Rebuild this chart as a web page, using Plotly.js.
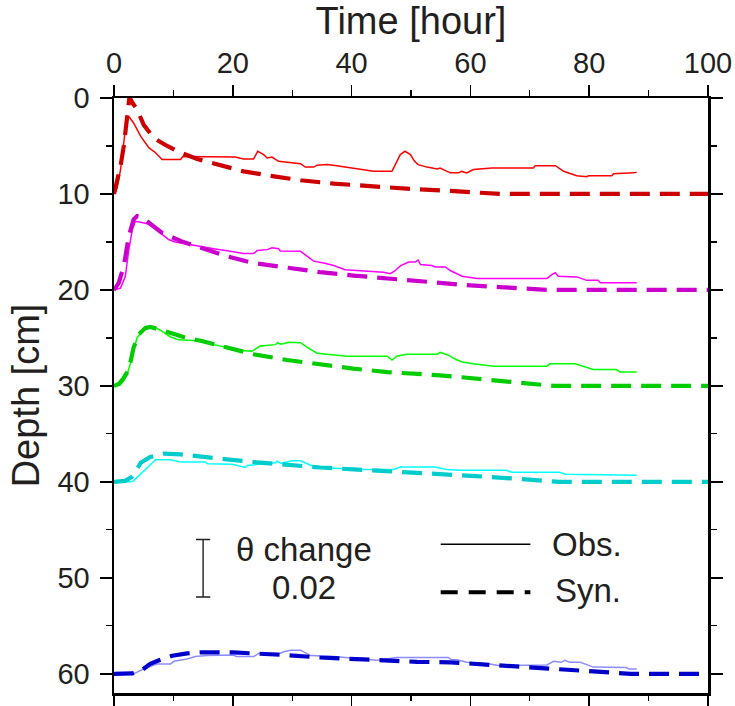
<!DOCTYPE html>
<html>
<head>
<meta charset="utf-8">
<script src="https://cdn.plot.ly/plotly-3.0.1.min.js"></script>
<style>html,body{margin:0;padding:0;background:#fff;}#chart{width:735px;height:706px;}</style>
</head>
<body>
<div id="chart"></div>
<script>
// Time [hour] / Depth [cm] values
const obsRedX = [0,0.5,1.1,1.65,2.0,2.3,2.6,3.3,4.5,5.9,7.0,8.1,11.2,11.6,13.9,17.1,20.4,21.8,23.5,24.2,25.2,25.8,26.6,27.7,31.4,32.2,33.6,34.2,35.9,37.5,39.2,40.9,43.7,46.8,47.1,48.2,49.0,49.9,50.6,51.2,52.7,54.4,54.9,56.6,58.0,58.5,59.4,60.5,63.6,70.6,70.9,74.3,75.7,77.3,77.9,79.6,79.9,83.8,84.1,87.4,88.0];
const obsRedY = [10,9.4,7.5,4.7,2.8,1.95,2.0,2.6,4.0,5.2,5.7,6.4,6.4,6.1,6.1,6.15,6.15,6.35,6.35,5.55,5.9,6.25,6.15,6.6,6.84,7.2,7.2,7.0,6.94,7.05,7.2,7.4,7.64,7.64,7.3,5.9,5.55,5.9,6.6,6.94,7.2,7.4,7.3,7.8,7.8,7.65,7.8,7.46,7.3,7.3,7.05,7.05,7.64,7.98,8.1,8.2,8.1,8.1,7.9,7.8,7.75];
const synRedX = [0,0.5,1.1,1.65,2.1,2.6,3.1,3.9,5.0,6.7,8.95,11.2,14,17.4,21.8,26.9,31.4,37,42.6,49.9,55,61.1,65,100];
const synRedY = [10,8.85,7.1,5.0,2.3,-0.1,0.5,1.2,2.8,4.17,5.0,5.7,6.35,6.94,7.64,8.16,8.57,8.92,9.2,9.47,9.62,9.8,10,10];

const obsMagX = [0,1.1,1.9,2.5,3.1,3.6,4.5,5.6,6.7,8.1,9.2,10.3,12.6,14.6,16.8,19.6,21.8,23.5,24.1,25.8,26.6,27.7,28.0,31.4,32.5,33.6,35.3,37,38.9,42.6,45.4,46.5,47.2,48.2,49.6,50.7,51.2,51.6,53.5,54.1,55.8,56.6,57.7,58.6,61.1,72.9,73.7,74.3,74.8,77.9,79.6,81.5,81.9,88];
const obsMagY = [20,19.8,18.6,15.8,13.7,12.85,12.95,13.1,13.5,14.2,14.75,15.0,15.27,15.45,15.7,15.97,16.2,16.2,15.9,15.8,15.6,15.7,15.95,15.97,16.5,17.0,17.2,17.45,17.9,18.05,18.15,18.3,18.05,17.5,17.1,17.1,16.9,17.35,17.45,17.6,17.6,17.98,18.3,18.57,18.8,18.8,18.4,18.2,18.57,18.64,19.0,19.0,19.25,19.25];
const synMagX = [0,0.8,1.65,2.5,3.3,3.9,4.6,5.9,8.1,11.2,14.6,19,23.5,29.1,34.7,40.3,45.9,51.6,53.8,59.4,65,71.2,73,100];
const synMagY = [20,19.26,17.5,14.4,12.67,12.3,12.4,13.0,14.05,14.9,15.6,16.5,17.2,17.7,18.15,18.5,18.8,19.1,19.26,19.5,19.7,19.95,20,20];

const obsGrnX = [0,1.0,1.6,2.2,2.8,3.3,3.9,4.7,5.9,7,7.8,8.7,9.5,10.9,14,16.8,19,21.3,23.2,24.6,27.2,27.5,28.1,29.4,31.4,32.8,34.2,35.9,39.2,46,46.8,47.6,49.3,54.4,54.9,56.3,57.4,58.6,60.5,63.9,72.9,73.4,77.6,80.7,84.6,85.2,88];
const obsGrnY = [30,29.9,29.5,28.8,27.6,26.2,25.0,24.3,23.95,23.95,24.2,24.6,24.9,25.2,25.3,25.7,26.0,26.3,26.4,25.85,25.7,25.5,25.65,25.45,25.5,26.1,26.6,26.7,26.9,26.9,27.3,26.9,26.7,26.7,26.5,26.8,27.2,27.5,27.7,27.94,27.94,27.7,27.7,28.3,28.3,28.56,28.56];
const synGrnX = [0,0.8,1.6,2.5,3.3,4.2,5.3,6.1,7.5,9.5,11.7,14.6,19,23.5,29.1,34.7,40.3,46,51,54.9,59.4,64,70,74,100];
const synGrnY = [30,29.8,29.2,28.3,26.0,24.6,23.95,23.85,24.1,24.46,24.9,25.3,26.0,26.7,27.3,27.8,28.2,28.56,28.7,28.9,29.15,29.45,29.8,30,30];

const obsCyaX = [0,2.8,3.3,5,7,9.5,11.2,15.4,15.7,19.9,22.1,22.4,27.2,27.4,28.1,30,31.4,33.1,34.7,38.1,40.3,47.1,48.2,54,56,58,66,67,75,76,88];
const obsCyaY = [40,40,39.9,38.9,37.7,37.7,37.93,37.93,38.1,38.17,38.5,38.3,38.0,37.85,38.05,37.8,37.8,38.27,38.5,38.6,38.7,38.7,38.45,38.45,38.7,38.8,38.8,39.0,39.0,39.2,39.3];
const synCyaX = [0,1.9,3.1,4.5,6.1,8.4,11.2,14.6,19,23.5,29.1,34.7,40.3,46,51,56,61,66,71,75,100];
const synCyaY = [40,39.9,39.45,38,37.4,37.05,37.13,37.4,37.65,37.93,38.27,38.5,38.7,38.87,39.04,39.2,39.4,39.6,39.85,40,40];

const obsBluX = [0,3.3,5,7.3,9.5,10.1,12.3,13.7,15.7,20.1,20.6,23.5,24.4,28,28.6,29.7,31.4,32.2,33.1,37,40.3,43.7,44.2,47.6,56.3,56.7,57.7,59.4,63.3,64.7,72.9,74,75.3,75.9,76.7,78.5,80.7,86.3,86.6,88];
const obsBluY = [60,60,59.5,58.97,58.97,58.7,58.45,58.2,58.1,58.05,58.2,58.2,57.85,57.85,57.7,57.54,57.54,57.8,58.1,58.2,58.4,58.54,58.6,58.3,58.3,58.5,58.54,58.8,58.97,59.14,59.07,58.7,58.8,58.6,58.8,58.8,59.3,59.35,59.5,59.5];
const synBluX = [0,3.1,4.5,6.1,7.8,9.8,12.3,14.6,20.1,24.6,29.1,34.7,40.3,46,51,56.6,61.1,66.1,71.2,76.2,81.3,86.3,87,100];
const synBluY = [60,59.96,59.7,58.97,58.54,58.12,57.88,57.77,57.77,57.88,58.05,58.3,58.47,58.64,58.75,58.8,58.97,59.14,59.3,59.5,59.7,59.96,60,60];

const xTicks = [0,20,40,60,80,100];
const yTicks = [0,10,20,30,40,50,60];

const FONT = "Liberation Sans, Arial, Helvetica, sans-serif";
const TXT = "#231f20";
const DASH = "20px,10px";

function obs(x, y, c) { return {x:x, y:y, type:'scatter', mode:'lines', line:{color:c, width:1.5}, hoverinfo:'skip', showlegend:false}; }
function syn(x, y, c) { return {x:x, y:y, type:'scatter', mode:'lines', line:{color:c, width:4.2, dash:DASH}, hoverinfo:'skip', showlegend:false}; }

const traces = [
  obs(obsRedX, obsRedY, '#ff0000'), syn(synRedX, synRedY, '#cc0000'),
  obs(obsMagX, obsMagY, '#ff00ff'), syn(synMagX, synMagY, '#cc00cc'),
  obs(obsGrnX, obsGrnY, '#00ff00'), syn(synGrnX, synGrnY, '#00cc00'),
  obs(obsCyaX, obsCyaY, '#00ffff'), syn(synCyaX, synCyaY, '#00cccc'),
  obs(obsBluX, obsBluY, '#8c8cff'), syn(synBluX, synBluY, '#0000cc')
];

const layout = {
  width:735, height:706,
  margin:{l:114, r:27, t:98, b:13, pad:0},
  paper_bgcolor:'#fff', plot_bgcolor:'#fff',
  font:{family:FONT, color:TXT},
  showlegend:false,
  xaxis:{
    side:'top', range:[0,100], tickvals:xTicks, ticks:'outside', ticklen:11, tickwidth:1.5, tickcolor:'#000',
    showline:true, linewidth:2.5, linecolor:'#000', mirror:'ticks', showgrid:false, zeroline:false,
    minor:{dtick:10, tick0:0, ticks:'outside', ticklen:5.5, tickwidth:1.2, tickcolor:'#000', showgrid:false},
    tickfont:{size:29, color:TXT, family:FONT},
    title:{text:'Time [hour]', font:{size:38, color:TXT, family:FONT}, standoff:8},
    automargin:false, fixedrange:true
  },
  yaxis:{
    range:[62,0], tickvals:yTicks, ticks:'outside', ticklen:12, tickwidth:1.5, tickcolor:'#000',
    showline:true, linewidth:2.5, linecolor:'#000', mirror:'ticks', showgrid:false, zeroline:false,
    minor:{dtick:5, tick0:0, ticks:'outside', ticklen:6, tickwidth:1.2, tickcolor:'#000', showgrid:false},
    tickfont:{size:29, color:TXT, family:FONT}, ticklabelstandoff:4,
    title:{text:'Depth [cm]', font:{size:38, color:TXT, family:FONT}, standoff:6},
    automargin:false, fixedrange:true
  },
  shapes:[
    {type:'path', xref:'x', yref:'y', path:'M 13.8 46 L 16.2 46 M 15 46 L 15 52 M 13.8 52 L 16.2 52', line:{color:'#231f20', width:1.4}},
    {type:'line', xref:'x', yref:'y', x0:55.0, x1:70.1, y0:46.5, y1:46.5, line:{color:'#000', width:1.5}},
    {type:'line', xref:'x', yref:'y', x0:55.0, x1:70.1, y0:51.5, y1:51.5, line:{color:'#000', width:4.2, dash:'17px,11px'}}
  ],
  annotations:[
    {xref:'x', yref:'y', x:32.0, y:47.04, text:'θ change', showarrow:false, xanchor:'center', yanchor:'middle', font:{size:33, color:TXT, family:FONT}},
    {xref:'x', yref:'y', x:32.0, y:51.03, text:'0.02', showarrow:false, xanchor:'center', yanchor:'middle', font:{size:33, color:TXT, family:FONT}},
    {xref:'x', yref:'y', x:73.4, y:46.52, text:'Obs.', showarrow:false, xanchor:'left', yanchor:'middle', font:{size:33, color:TXT, family:FONT}},
    {xref:'x', yref:'y', x:73.9, y:51.34, text:'Syn.', showarrow:false, xanchor:'left', yanchor:'middle', font:{size:33, color:TXT, family:FONT}}
  ]
};

Plotly.newPlot('chart', traces, layout, {staticPlot:true, displayModeBar:false});
</script>
</body>
</html>
